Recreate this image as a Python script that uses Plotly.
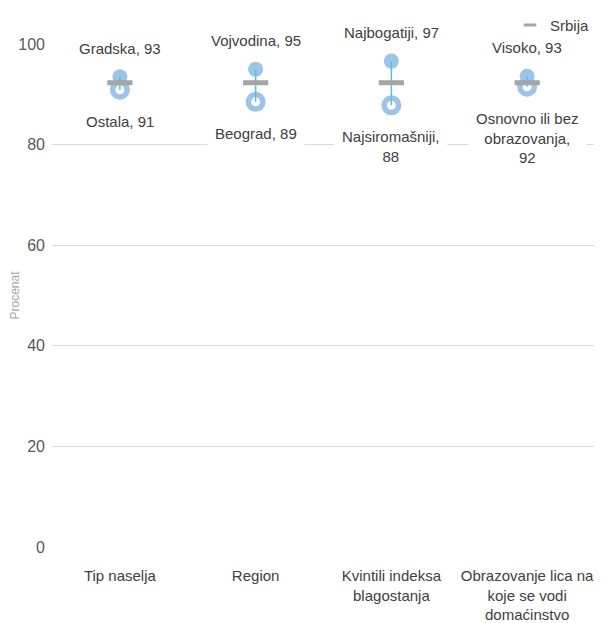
import plotly.graph_objects as go

categories = ["Tip naselja", "Region", "Kvintili indeksa<br>blagostanja",
              "Obrazovanje lica na<br>koje se vodi<br>domaćinstvo"]
high_values = [93.5, 95.0, 96.6, 93.6]
low_values = [90.9, 88.5, 87.8, 91.5]
high_text = ["Gradska, 93", "Vojvodina, 95", "Najbogatiji, 97", "Visoko, 93"]
low_text = ["Ostala, 91", "Beograd, 89", "Najsiromašniji,<br>88", "Osnovno ili bez<br>obrazovanja,<br>92"]
serbia_values = [92.3, 92.3, 92.3, 92.3]
y_ticks = [0, 20, 40, 60, 80, 100]

FONT = "Liberation Sans, Arial, sans-serif"
TXT = "#404040"
BLUE = "#9DC3E6"
TEAL = "#4FC3DD"
GREY = "#A5A5A5"

fig = go.Figure()

fig.add_trace(go.Scatter(
    x=categories, y=high_values, mode="markers",
    marker=dict(symbol="circle", size=15, color=BLUE),
    showlegend=False, hoverinfo="skip"))

fig.add_trace(go.Scatter(
    x=categories, y=low_values, mode="markers",
    marker=dict(symbol="circle", size=14.5, color="white",
                line=dict(color=BLUE, width=5.5)),
    showlegend=False, hoverinfo="skip"))

cx, cy = [], []
for c, h, l in zip(categories, high_values, low_values):
    cx += [c, c, None]
    cy += [h, l, None]
fig.add_trace(go.Scatter(
    x=cx, y=cy, mode="lines", line=dict(color=TEAL, width=1.5),
    showlegend=False, hoverinfo="skip"))

fig.add_trace(go.Scatter(
    x=categories, y=serbia_values, mode="markers", name="Srbija",
    marker=dict(symbol="line-ew", size=18, line=dict(color=GREY, width=5)),
    showlegend=False, hoverinfo="skip"))

# legend-only entry with a smaller dash symbol
fig.add_trace(go.Scatter(
    x=[None], y=[None], mode="markers", name="Srbija",
    marker=dict(symbol="line-ew", size=9, line=dict(color=GREY, width=3))))

annotations = []
for c, v, t in zip(categories, high_values, high_text):
    annotations.append(dict(x=c, y=v, xref="x", yref="y", text=t, showarrow=False,
                            yanchor="bottom", yshift=12, bgcolor="white", borderpad=7,
                            font=dict(family=FONT, size=15, color=TXT)))
for c, v, t in zip(categories, low_values, low_text):
    annotations.append(dict(x=c, y=v, xref="x", yref="y", text=t, showarrow=False,
                            yanchor="top", yshift=-15, bgcolor="white", borderpad=7,
                            font=dict(family=FONT, size=15, color=TXT)))

fig.update_layout(
    width=594, height=615,
    margin=dict(l=44, r=7, t=36, b=76, autoexpand=False),
    plot_bgcolor="white", paper_bgcolor="white",
    font=dict(family=FONT, size=14, color=TXT),
    annotations=annotations,
    showlegend=True,
    legend=dict(x=1.0, xanchor="right", y=1.07, yanchor="top",
                font=dict(family=FONT, size=15, color=TXT),
                bgcolor="rgba(0,0,0,0)", itemwidth=30, tracegroupgap=0),
    xaxis=dict(type="category", range=[-0.5, 3.5], showgrid=False, zeroline=False,
               showline=False, ticks="", ticklabelstandoff=18,
               tickfont=dict(family=FONT, size=15, color=TXT)),
    yaxis=dict(range=[0, 100], tickvals=y_ticks, showgrid=True, gridcolor="#D9D9D9",
               gridwidth=1, zeroline=False, showline=False, ticks="",
               ticklabelstandoff=6,
               tickfont=dict(family=FONT, size=16, color="#595959"),
               title=dict(text="Procenat", standoff=0,
                          font=dict(family=FONT, size=12, color="#A6A6A6"))),
)

fig.write_html("out.html")
